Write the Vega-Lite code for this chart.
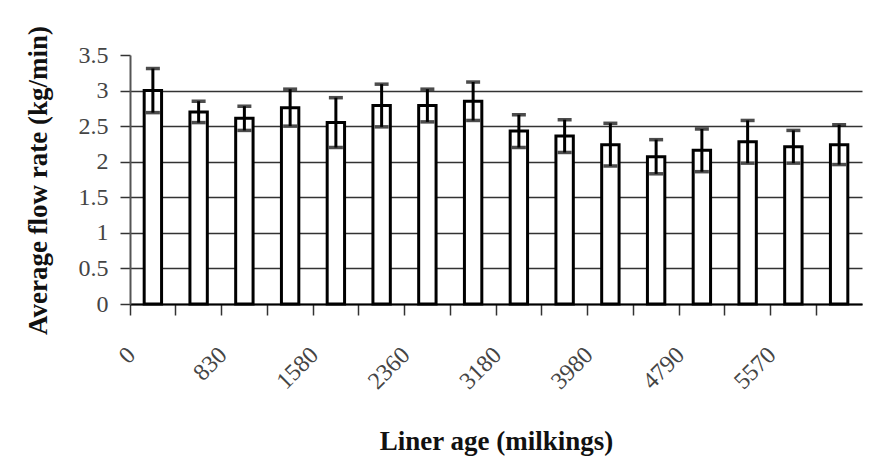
{
  "$schema": "https://vega.github.io/schema/vega-lite/v6.json",
  "autosize": "none",
  "width": 732,
  "height": 249,
  "padding": {"left": 130, "top": 55, "right": 7, "bottom": 156},
  "background": "white",
  "config": {
    "view": {"stroke": null},
    "font": "Liberation Serif"
  },
  "data": {
    "values": [
      {"age": 0, "mean": 3.00, "err": 0.31},
      {"age": 415, "mean": 2.70, "err": 0.15},
      {"age": 830, "mean": 2.61, "err": 0.17},
      {"age": 1205, "mean": 2.76, "err": 0.26},
      {"age": 1580, "mean": 2.55, "err": 0.35},
      {"age": 1970, "mean": 2.79, "err": 0.30},
      {"age": 2360, "mean": 2.79, "err": 0.23},
      {"age": 2770, "mean": 2.85, "err": 0.27},
      {"age": 3180, "mean": 2.43, "err": 0.23},
      {"age": 3580, "mean": 2.36, "err": 0.23},
      {"age": 3980, "mean": 2.24, "err": 0.30},
      {"age": 4385, "mean": 2.07, "err": 0.24},
      {"age": 4790, "mean": 2.16, "err": 0.30},
      {"age": 5180, "mean": 2.28, "err": 0.30},
      {"age": 5570, "mean": 2.21, "err": 0.23},
      {"age": 5960, "mean": 2.24, "err": 0.28}
    ]
  },
  "encoding": {
    "x": {
      "field": "age",
      "type": "ordinal",
      "scale": {"paddingInner": 0, "paddingOuter": 0},
      "axis": {
        "title": "Liner age (milkings)",
        "titleFont": "Liberation Serif",
        "titleFontSize": 27,
        "titleFontWeight": "bold",
        "titleColor": "#111",
        "titleBaseline": "alphabetic",
        "titleY": 145,
        "bandPosition": 0,
        "labelAngle": -45,
        "labelAlign": "right",
        "labelBaseline": "middle",
        "labelPadding": 36,
        "labelOffset": -21,
        "labelFontSize": 24,
        "labelColor": "#444",
        "labelFont": "Liberation Serif",
        "labelOverlap": false,
        "labelExpr": "indexof(['0','830','1580','2360','3180','3980','4790','5570'], datum.label) >= 0 ? datum.label : ''",
        "domainColor": "#000",
        "domainWidth": 2,
        "tickColor": "#333",
        "tickWidth": 1.5,
        "tickSize": 11,
        "grid": false
      }
    },
    "y": {
      "field": "mean",
      "type": "quantitative",
      "scale": {"domain": [0, 3.5]},
      "axis": {
        "title": "Average flow rate (kg/min)",
        "titleFont": "Liberation Serif",
        "titleFontSize": 27,
        "titleFontWeight": "bold",
        "titleColor": "#111",
        "titleX": -92,
        "titleY": 125,
        "titleAlign": "center",
        "titleBaseline": "middle",
        "values": [0, 0.5, 1, 1.5, 2, 2.5, 3, 3.5],
        "format": "~g",
        "labelOverlap": false,
        "labelFontSize": 24,
        "labelColor": "#444",
        "labelFont": "Liberation Serif",
        "labelPadding": 12,
        "tickSize": 10,
        "tickColor": "#333",
        "tickWidth": 1.5,
        "domainColor": "#555",
        "domainWidth": 2,
        "grid": true,
        "gridColor": "#333",
        "gridWidth": 1.5,
        "gridOpacity": {"condition": {"test": "datum.value >= 3.5", "value": 0}, "value": 1}
      }
    }
  },
  "layer": [
    {
      "mark": {"type": "bar", "fill": "white", "stroke": "black", "strokeWidth": 3, "width": {"band": 0.38}}
    },
    {
      "mark": {
        "type": "errorbar",
        "color": "black",
        "thickness": 3,
        "ticks": {"size": 14, "thickness": 3.5, "color": "black"},
        "rule": {"strokeWidth": 3, "color": "black"}
      },
      "encoding": {
        "yError": {"field": "err"}
      }
    }
  ]
}
